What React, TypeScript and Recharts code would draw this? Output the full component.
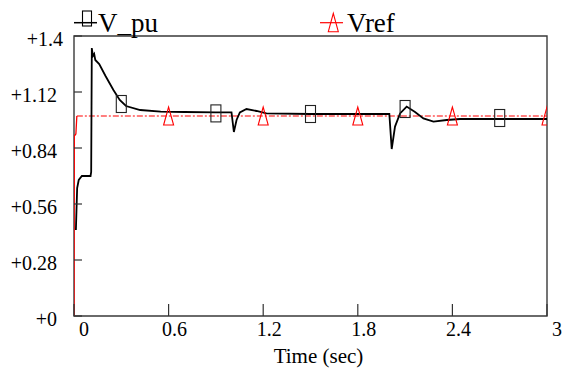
import { ComposedChart, Line, Scatter, XAxis, YAxis, ReferenceArea, Legend } from 'recharts'

const SERIF = 'Liberation Serif'

// V_pu trace (time in sec, per-unit voltage)
const vpuTime = [
  0.012, 0.02, 0.03, 0.05, 0.105, 0.109, 0.113, 0.12, 0.128, 0.135, 0.16, 0.2, 0.25, 0.29, 0.33, 0.42, 0.55,
  0.7, 0.9, 0.999, 1.014, 1.031, 1.052, 1.094, 1.158, 1.22, 1.5, 2.0, 2.015, 2.036, 2.068, 2.11, 2.163,
  2.216, 2.28, 2.364, 2.449, 3.0,
]
const vpuValue = [
  0.43, 0.64, 0.68, 0.7, 0.7, 0.72, 1.34, 1.3, 1.31, 1.28, 1.26, 1.2, 1.13, 1.08, 1.05, 1.03, 1.022,
  1.02, 1.018, 1.018, 0.92, 0.98, 1.018, 1.035, 1.025, 1.013, 1.01, 1.01, 0.835, 0.947, 1.013, 1.047, 1.02,
  0.988, 0.972, 0.98, 0.985, 0.985,
]

// Vref: initial rise (solid) and the settled part (dash-dot)
const vrefRiseTime = [0, 0.002, 0.012, 0.018]
const vrefRiseValue = [0, 0.9, 0.91, 1.0]
const vrefTime = [0.018, 3]
const vrefValue = [1.0, 1.0]

// marker positions along each trace
const vpuMarkTime = [0.3, 0.9, 1.5, 2.1, 2.7]
const vpuMarkValue = [1.06, 1.013, 1.01, 1.035, 0.99]
const vrefMarkTime = [0.6, 1.2, 1.8, 2.4, 3]
const vrefMarkValue = [1, 1, 1, 1, 1]

const xTicks = [0, 0.6, 1.2, 1.8, 2.4, 3]
const xTickLabels = ['0', '0.6', '1.2', '1.8', '2.4', '3']
const yTicks = [0, 0.28, 0.56, 0.84, 1.12, 1.4]
const yTickLabels = ['+0', '+0.28', '+0.56', '+0.84', '+1.12', '+1.4']

const zip = (ts: number[], vs: number[]) => ts.map((t, i) => ({ t, v: vs[i] }))
const vpuRows = zip(vpuTime, vpuValue)
const vrefRiseRows = zip(vrefRiseTime, vrefRiseValue)
const vrefRows = zip(vrefTime, vrefValue)
const vpuMarks = zip(vpuMarkTime, vpuMarkValue)
const vrefMarks = zip(vrefMarkTime, vrefMarkValue)

function XTick({ x, y, payload }: any) {
  const i = xTicks.indexOf(payload.value)
  const label = i >= 0 ? xTickLabels[i] : String(payload.value)
  const dx = label.length === 1 ? 10 : 6
  return (
    <g>
      <line x1={x} y1={y} x2={x} y2={y - 12} stroke="#333" strokeWidth={1.2} />
      <text x={x + dx} y={y + 20} textAnchor="middle" fill="#000" fontFamily={SERIF} fontSize={20}>
        {label}
      </text>
    </g>
  )
}

function YTick({ x, y, payload }: any) {
  const i = yTicks.indexOf(payload.value)
  const label = i >= 0 ? yTickLabels[i] : String(payload.value)
  // the top label sits a little further right in the original
  const right = label === '+1.4' ? x - 11 : x - 17
  return (
    <g>
      <line x1={x} y1={y} x2={x + 8} y2={y} stroke="#333" strokeWidth={1.2} />
      <text x={right} y={y + 10} textAnchor="end" fill="#000" fontFamily={SERIF} fontSize={20}>
        {label}
      </text>
    </g>
  )
}

function AxisTitle({ viewBox }: any) {
  return (
    <text
      x={viewBox.x + viewBox.width / 2 + 8}
      y={viewBox.y + 47}
      textAnchor="middle"
      fill="#000"
      fontFamily={SERIF}
      fontSize={21}
    >
      Time (sec)
    </text>
  )
}

const SquareMark = (p: any) => (
  <rect x={p.cx - 5} y={p.cy - 8.5} width={10} height={17} fill="none" stroke="#222" strokeWidth={1.1} />
)

const TriMark = (p: any) => (
  <polygon
    points={`${p.cx},${p.cy - 9} ${p.cx - 5},${p.cy + 9} ${p.cx + 5},${p.cy + 9}`}
    fill="none"
    stroke="#ff0000"
    strokeWidth={1.1}
  />
)

function LegendBox() {
  return (
    <svg width={562} height={40} style={{ display: 'block', overflow: 'visible' }}>
      <line x1={74} x2={97} y1={22.7} y2={22.7} stroke="#000" strokeWidth={1.5} />
      <rect x={82.5} y={11} width={9} height={15} fill="none" stroke="#000" strokeWidth={1.1} />
      <text x={98} y={31.5} fill="#000" fontFamily={SERIF} fontSize={27}>V_pu</text>
      <line x1={320} x2={343} y1={22.7} y2={22.7} stroke="#ff0000" strokeWidth={1.2} />
      <polygon points="333.3,13.3 328.3,31.7 338.3,31.7" fill="none" stroke="#ff0000" strokeWidth={1.1} />
      <text x={347} y={31.5} fill="#000" fontFamily={SERIF} fontSize={27}>Vref</text>
    </svg>
  )
}

export default function App() {
  return (
    <div style={{ position: 'absolute', left: 0, top: 0, width: 562, height: 372, background: '#fff', fontFamily: SERIF }}>
      <ComposedChart
        width={562}
        height={372}
        margin={{ top: 36, right: 15, bottom: 0, left: 0 }}
        style={{ fontFamily: SERIF }}
      >
        <XAxis
          dataKey="t"
          type="number"
          domain={[0, 3]}
          ticks={xTicks}
          allowDataOverflow
          axisLine={false}
          tickLine={false}
          tickSize={0}
          tickMargin={0}
          height={56}
          tick={<XTick />}
          label={<AxisTitle />}
        />
        <YAxis
          type="number"
          domain={[0, 1.4]}
          ticks={yTicks}
          allowDataOverflow
          axisLine={false}
          tickLine={false}
          tickSize={0}
          tickMargin={0}
          width={74}
          tick={<YTick />}
        />
        <ReferenceArea x1={0} x2={3} y1={0} y2={1.4} fill="none" stroke="#3a3a3a" strokeWidth={1.4} />
        <Legend
          verticalAlign="middle"
          align="center"
          wrapperStyle={{ top: 0, left: 0, width: 562, height: 40 }}
          content={() => <LegendBox />}
        />
        <Line
          data={vrefRiseRows}
          dataKey="v"
          type="linear"
          stroke="#ff0000"
          strokeWidth={1.3}
          dot={false}
          activeDot={false}
          isAnimationActive={false}
        />
        <Line
          data={vrefRows}
          dataKey="v"
          type="linear"
          stroke="#ff0000"
          strokeWidth={1.1}
          strokeDasharray="6 2 2 2"
          dot={false}
          activeDot={false}
          isAnimationActive={false}
        />
        <Line
          data={vpuRows}
          dataKey="v"
          type="linear"
          stroke="#000"
          strokeWidth={1.8}
          dot={false}
          activeDot={false}
          isAnimationActive={false}
        />
        <Scatter data={vrefMarks} dataKey="v" shape={TriMark} isAnimationActive={false} />
        <Scatter data={vpuMarks} dataKey="v" shape={SquareMark} isAnimationActive={false} />
      </ComposedChart>
    </div>
  )
}
